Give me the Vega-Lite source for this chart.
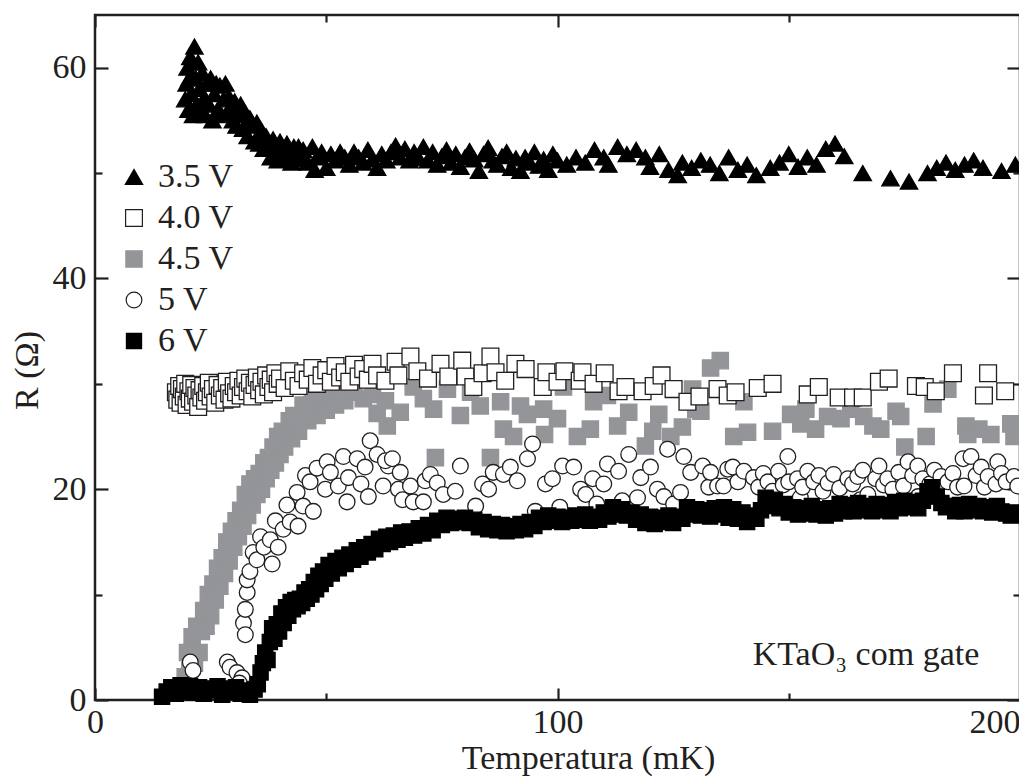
{
  "$schema": "https://vega.github.io/schema/vega-lite/v6.json",
  "autosize": {"type": "none"},
  "padding": {"left": 95, "top": 15, "right": 0, "bottom": 84},
  "width": 925,
  "height": 685,
  "background": "white",
  "config": {
    "view": {"stroke": "#231f20", "strokeWidth": 2.5},
    "font": "'Liberation Serif', 'Times New Roman', 'DejaVu Serif', serif",
    "axis": {"labelFont": "'Liberation Serif', 'Times New Roman', 'DejaVu Serif', serif", "titleFont": "'Liberation Serif', 'Times New Roman', 'DejaVu Serif', serif", "labelFontSize": 34, "titleFontSize": 34, "labelColor": "#231f20", "titleColor": "#231f20", "titleFontWeight": "normal", "tickColor": "#231f20", "tickWidth": 2.2, "domain": false, "grid": false, "labelOverlap": false},
    "legend": {"labelFont": "'Liberation Serif', 'Times New Roman', 'DejaVu Serif', serif", "labelFontSize": 34, "labelColor": "#231f20", "symbolOpacity": 1, "symbolStrokeWidth": 1.2}
  },
  "resolve": {"axis": {"x": "independent", "y": "independent"}},
  "layer": [
    {
      "data": {"values": [
        {"gate":"4.5 V","T":19.5,"R":2.2},{"gate":"4.5 V","T":20,"R":4.5},{"gate":"4.5 V","T":20.5,"R":2.8},{"gate":"4.5 V","T":21,"R":6},{"gate":"4.5 V","T":21.5,"R":3.5},{"gate":"4.5 V","T":22,"R":7},{"gate":"4.5 V","T":22.5,"R":4.5},{"gate":"4.5 V","T":23,"R":6.5},{"gate":"4.5 V","T":23.5,"R":8.5},{"gate":"4.5 V","T":24,"R":7},{"gate":"4.5 V","T":24.5,"R":10},{"gate":"4.5 V","T":25,"R":8},{"gate":"4.5 V","T":25.5,"R":11},{"gate":"4.5 V","T":26,"R":9.5},{"gate":"4.5 V","T":26.5,"R":12.5},{"gate":"4.5 V","T":27,"R":10.8},{"gate":"4.5 V","T":27.5,"R":13.5},{"gate":"4.5 V","T":28,"R":12},{"gate":"4.5 V","T":28.5,"R":15},{"gate":"4.5 V","T":29,"R":13.2},{"gate":"4.5 V","T":29.5,"R":16},{"gate":"4.5 V","T":30,"R":14.5},{"gate":"4.5 V","T":30.5,"R":17},{"gate":"4.5 V","T":31,"R":15.5},{"gate":"4.5 V","T":31.5,"R":18},{"gate":"4.5 V","T":32,"R":16.5},{"gate":"4.5 V","T":32.5,"R":19.5},{"gate":"4.5 V","T":33,"R":17.5},{"gate":"4.5 V","T":33.5,"R":20.5},{"gate":"4.5 V","T":34,"R":18.5},{"gate":"4.5 V","T":34.5,"R":21},{"gate":"4.5 V","T":35,"R":19.5},{"gate":"4.5 V","T":35.5,"R":21.5},{"gate":"4.5 V","T":36,"R":20},{"gate":"4.5 V","T":36.5,"R":22.5},{"gate":"4.5 V","T":37,"R":21},{"gate":"4.5 V","T":37.5,"R":23},{"gate":"4.5 V","T":38,"R":21.8},{"gate":"4.5 V","T":38.5,"R":24},{"gate":"4.5 V","T":39,"R":22.5},{"gate":"4.5 V","T":39.5,"R":25},{"gate":"4.5 V","T":40,"R":23.3},{"gate":"4.5 V","T":40.5,"R":25.5},{"gate":"4.5 V","T":41,"R":24},{"gate":"4.5 V","T":42,"R":26.5},{"gate":"4.5 V","T":42.5,"R":24.8},{"gate":"4.5 V","T":43,"R":27},{"gate":"4.5 V","T":44,"R":25.5},{"gate":"4.5 V","T":45,"R":28},{"gate":"4.5 V","T":46,"R":26.5},{"gate":"4.5 V","T":47,"R":28.5},{"gate":"4.5 V","T":48,"R":27},{"gate":"4.5 V","T":49,"R":29},{"gate":"4.5 V","T":50,"R":27.5},{"gate":"4.5 V","T":51,"R":29.2},{"gate":"4.5 V","T":52,"R":28},{"gate":"4.5 V","T":53,"R":30},{"gate":"4.5 V","T":54,"R":28.4},{"gate":"4.5 V","T":55,"R":31},{"gate":"4.5 V","T":56,"R":29.2},{"gate":"4.5 V","T":57,"R":30.5},{"gate":"4.5 V","T":58,"R":28.6},{"gate":"4.5 V","T":59,"R":31.5},{"gate":"4.5 V","T":60,"R":29},{"gate":"4.5 V","T":61,"R":27.2},
        {"gate":"4.5 V","T":62.8,"R":28.4},{"gate":"4.5 V","T":63.2,"R":26},{"gate":"4.5 V","T":66,"R":27.3},{"gate":"4.5 V","T":68.8,"R":29.7},{"gate":"4.5 V","T":71,"R":28.6},{"gate":"4.5 V","T":73.2,"R":27.6},{"gate":"4.5 V","T":73.6,"R":23},{"gate":"4.5 V","T":76.2,"R":29.5},{"gate":"4.5 V","T":79,"R":27},{"gate":"4.5 V","T":81.2,"R":29.2},{"gate":"4.5 V","T":83.3,"R":27.9},{"gate":"4.5 V","T":85.5,"R":23},{"gate":"4.5 V","T":87.7,"R":28.3},{"gate":"4.5 V","T":88.3,"R":25.7},{"gate":"4.5 V","T":90.5,"R":25},{"gate":"4.5 V","T":92,"R":27.9},{"gate":"4.5 V","T":93.5,"R":27.1},{"gate":"4.5 V","T":97,"R":27.6},{"gate":"4.5 V","T":97.2,"R":25.2},{"gate":"4.5 V","T":100,"R":26.7},{"gate":"4.5 V","T":101.3,"R":29.7},{"gate":"4.5 V","T":104.3,"R":25},{"gate":"4.5 V","T":107.1,"R":25.7},{"gate":"4.5 V","T":107.8,"R":28.3},{"gate":"4.5 V","T":110.8,"R":28.9},{"gate":"4.5 V","T":113,"R":26},{"gate":"4.5 V","T":115.4,"R":27.3},{"gate":"4.5 V","T":119,"R":24.1},{"gate":"4.5 V","T":120.6,"R":25.5},{"gate":"4.5 V","T":121.9,"R":27.1},{"gate":"4.5 V","T":124.5,"R":25},{"gate":"4.5 V","T":127,"R":25.9},{"gate":"4.5 V","T":129.2,"R":29.5},{"gate":"4.5 V","T":129.9,"R":27.6},{"gate":"4.5 V","T":131,"R":27.4},{"gate":"4.5 V","T":133.1,"R":31.5},{"gate":"4.5 V","T":135.2,"R":32.2},{"gate":"4.5 V","T":138.1,"R":25},{"gate":"4.5 V","T":140.3,"R":28.3},{"gate":"4.5 V","T":141.1,"R":25.4},{"gate":"4.5 V","T":146.5,"R":25.5},{"gate":"4.5 V","T":150.4,"R":27.1},{"gate":"4.5 V","T":152.6,"R":26.2},{"gate":"4.5 V","T":153.7,"R":27.6},{"gate":"4.5 V","T":155.8,"R":25.7},{"gate":"4.5 V","T":158.4,"R":26.9},{"gate":"4.5 V","T":161.3,"R":26.7},{"gate":"4.5 V","T":163.4,"R":27.6},{"gate":"4.5 V","T":166.2,"R":26.9},{"gate":"4.5 V","T":168.2,"R":26},{"gate":"4.5 V","T":169.9,"R":25.7},{"gate":"4.5 V","T":173.2,"R":27.4},{"gate":"4.5 V","T":174.2,"R":26.9},{"gate":"4.5 V","T":175.1,"R":24},{"gate":"4.5 V","T":179.7,"R":25},{"gate":"4.5 V","T":181.2,"R":28.1},{"gate":"4.5 V","T":184.4,"R":29.5},{"gate":"4.5 V","T":188.3,"R":26},{"gate":"4.5 V","T":188.7,"R":25.2},{"gate":"4.5 V","T":191.1,"R":25.7},{"gate":"4.5 V","T":193.7,"R":25.2},{"gate":"4.5 V","T":198,"R":26.2},{"gate":"4.5 V","T":198.7,"R":25},

        {"gate":"5 V","T":20.6,"R":3.6},{"gate":"5 V","T":21.2,"R":2.8},{"gate":"5 V","T":28.6,"R":3.6},{"gate":"5 V","T":29.2,"R":3.1},{"gate":"5 V","T":30.7,"R":2.6},{"gate":"5 V","T":31.8,"R":2.1},{"gate":"5 V","T":31.2,"R":1.6},{"gate":"5 V","T":32.1,"R":7.3},{"gate":"5 V","T":32.5,"R":6.2},{"gate":"5 V","T":32.5,"R":8.6},{"gate":"5 V","T":32.9,"R":10.2},{"gate":"5 V","T":32.9,"R":11.4},{"gate":"5 V","T":33.5,"R":12.2},{"gate":"5 V","T":34.2,"R":14},{"gate":"5 V","T":35,"R":13.3},{"gate":"5 V","T":35.8,"R":15.5},{"gate":"5 V","T":36.5,"R":14.5},{"gate":"5 V","T":37.9,"R":15.2},{"gate":"5 V","T":38.3,"R":12.9},{"gate":"5 V","T":39.6,"R":14.5},{"gate":"5 V","T":39,"R":17},{"gate":"5 V","T":40.7,"R":16.2},{"gate":"5 V","T":41.5,"R":18.5},{"gate":"5 V","T":42.2,"R":16.9},{"gate":"5 V","T":43.9,"R":16.5},{"gate":"5 V","T":43.7,"R":19.7},{"gate":"5 V","T":45,"R":18.4},{"gate":"5 V","T":45.5,"R":21.3},{"gate":"5 V","T":46.5,"R":20.7},{"gate":"5 V","T":47.2,"R":17.9},{"gate":"5 V","T":48,"R":22},{"gate":"5 V","T":49.8,"R":20},{"gate":"5 V","T":50.2,"R":22.6},{"gate":"5 V","T":50.9,"R":21.6},{"gate":"5 V","T":52.6,"R":20.3},{"gate":"5 V","T":53.7,"R":23.1},{"gate":"5 V","T":54.5,"R":18.8},{"gate":"5 V","T":54.8,"R":21.1},{"gate":"5 V","T":56.7,"R":22.9},{"gate":"5 V","T":57.5,"R":20.5},{"gate":"5 V","T":58.4,"R":22.1},{"gate":"5 V","T":59.1,"R":19.3},{"gate":"5 V","T":59.5,"R":24.6},{"gate":"5 V","T":61,"R":23.3},{"gate":"5 V","T":62.3,"R":20.3},{"gate":"5 V","T":63.4,"R":22.2},
        {"gate":"5 V","T":62.8,"R":22.7},{"gate":"5 V","T":64.3,"R":22.9},{"gate":"5 V","T":66,"R":21.6},{"gate":"5 V","T":65.6,"R":20},{"gate":"5 V","T":68.2,"R":20.3},{"gate":"5 V","T":66.5,"R":19},{"gate":"5 V","T":68.8,"R":18.8},{"gate":"5 V","T":71,"R":18.8},{"gate":"5 V","T":71.4,"R":20.8},{"gate":"5 V","T":72.5,"R":21.4},{"gate":"5 V","T":74,"R":20.6},{"gate":"5 V","T":75.3,"R":19.5},{"gate":"5 V","T":77.9,"R":19.8},{"gate":"5 V","T":79,"R":22.2},{"gate":"5 V","T":82.3,"R":18.4},{"gate":"5 V","T":83.8,"R":20.5},{"gate":"5 V","T":85.1,"R":20},{"gate":"5 V","T":86.1,"R":21.6},{"gate":"5 V","T":88.3,"R":21.4},{"gate":"5 V","T":89.8,"R":22.1},{"gate":"5 V","T":91.3,"R":20.8},{"gate":"5 V","T":93.5,"R":22.9},{"gate":"5 V","T":94.6,"R":24.3},{"gate":"5 V","T":95.2,"R":17.9},{"gate":"5 V","T":97.4,"R":20.5},{"gate":"5 V","T":98.9,"R":21},{"gate":"5 V","T":100.5,"R":18.3},{"gate":"5 V","T":101.1,"R":22.2},{"gate":"5 V","T":103.5,"R":22.1},{"gate":"5 V","T":105,"R":20},{"gate":"5 V","T":106.1,"R":19.5},{"gate":"5 V","T":107.6,"R":21},{"gate":"5 V","T":108.5,"R":18.6},{"gate":"5 V","T":110,"R":20.5},{"gate":"5 V","T":110.8,"R":22.4},{"gate":"5 V","T":113.2,"R":21.7},{"gate":"5 V","T":114,"R":18.9},{"gate":"5 V","T":115.4,"R":23.3},{"gate":"5 V","T":117.3,"R":19.2},{"gate":"5 V","T":118,"R":21.1},{"gate":"5 V","T":120.1,"R":22.1},{"gate":"5 V","T":121.6,"R":20},{"gate":"5 V","T":123,"R":19.3},{"gate":"5 V","T":123.8,"R":23.8},{"gate":"5 V","T":125.1,"R":18.6},{"gate":"5 V","T":126.6,"R":19.7},{"gate":"5 V","T":127.3,"R":23.1},{"gate":"5 V","T":128.8,"R":21.6},{"gate":"5 V","T":131.4,"R":22.2},{"gate":"5 V","T":132.7,"R":20.2},{"gate":"5 V","T":133.1,"R":21.6},{"gate":"5 V","T":134.6,"R":20.3},{"gate":"5 V","T":135.9,"R":20.3},{"gate":"5 V","T":136.8,"R":21.9},{"gate":"5 V","T":137.9,"R":22.1},{"gate":"5 V","T":139,"R":20.7},{"gate":"5 V","T":140.3,"R":21.7},{"gate":"5 V","T":142.4,"R":21.1},{"gate":"5 V","T":143.5,"R":20.2},{"gate":"5 V","T":144.5,"R":21.5},{"gate":"5 V","T":145.5,"R":20.7},{"gate":"5 V","T":146.5,"R":19.8},{"gate":"5 V","T":147.8,"R":21.7},{"gate":"5 V","T":148.8,"R":20.4},{"gate":"5 V","T":149.8,"R":23.1},{"gate":"5 V","T":150,"R":20.7},{"gate":"5 V","T":151.9,"R":21},{"gate":"5 V","T":152.5,"R":19.2},{"gate":"5 V","T":153,"R":20.2},{"gate":"5 V","T":154.1,"R":21.7},{"gate":"5 V","T":155.4,"R":20.7},{"gate":"5 V","T":156.5,"R":21.3},{"gate":"5 V","T":157.4,"R":19.8},{"gate":"5 V","T":158.5,"R":20.6},{"gate":"5 V","T":159.7,"R":21.4},{"gate":"5 V","T":161,"R":20.1},{"gate":"5 V","T":162.8,"R":21},{"gate":"5 V","T":163.8,"R":20.5},{"gate":"5 V","T":164.9,"R":21.2},{"gate":"5 V","T":165.5,"R":19},{"gate":"5 V","T":166,"R":21.8},{"gate":"5 V","T":167.1,"R":19.5},{"gate":"5 V","T":168.8,"R":21},{"gate":"5 V","T":169.5,"R":22.2},{"gate":"5 V","T":170.5,"R":20.4},{"gate":"5 V","T":171.4,"R":21},{"gate":"5 V","T":172.5,"R":20},{"gate":"5 V","T":173.8,"R":21.6},{"gate":"5 V","T":174.8,"R":20.3},{"gate":"5 V","T":175.8,"R":22.6},{"gate":"5 V","T":176.8,"R":21.3},{"gate":"5 V","T":177.9,"R":22.2},{"gate":"5 V","T":178,"R":19.3},{"gate":"5 V","T":179,"R":21},{"gate":"5 V","T":180.5,"R":20.5},{"gate":"5 V","T":181.5,"R":21.8},{"gate":"5 V","T":182.9,"R":21.2},{"gate":"5 V","T":184.4,"R":20.7},{"gate":"5 V","T":185.5,"R":21.5},{"gate":"5 V","T":186.5,"R":20.2},{"gate":"5 V","T":187.7,"R":22.9},{"gate":"5 V","T":187.9,"R":20.3},{"gate":"5 V","T":189.4,"R":23.1},{"gate":"5 V","T":190.5,"R":21.3},{"gate":"5 V","T":191.6,"R":22.1},{"gate":"5 V","T":192.3,"R":20.2},{"gate":"5 V","T":193.1,"R":21.2},{"gate":"5 V","T":194.8,"R":20.5},{"gate":"5 V","T":195.2,"R":22.6},{"gate":"5 V","T":196,"R":21.5},{"gate":"5 V","T":197,"R":20.7},{"gate":"5 V","T":198.7,"R":21.2},{"gate":"5 V","T":199.5,"R":20.3},

        {"gate":"6 V","T":14.5,"R":0.3},{"gate":"6 V","T":15.5,"R":0.8},{"gate":"6 V","T":16.5,"R":1.2},{"gate":"6 V","T":17.5,"R":0.6},{"gate":"6 V","T":18.5,"R":1.4},{"gate":"6 V","T":19.5,"R":0.8},{"gate":"6 V","T":20.5,"R":1.3},{"gate":"6 V","T":21.5,"R":0.7},{"gate":"6 V","T":22.5,"R":1.2},{"gate":"6 V","T":23.5,"R":0.6},{"gate":"6 V","T":24.5,"R":1.1},{"gate":"6 V","T":25.5,"R":0.9},{"gate":"6 V","T":26.5,"R":1.3},{"gate":"6 V","T":27.5,"R":0.5},{"gate":"6 V","T":28.5,"R":1.1},{"gate":"6 V","T":29.5,"R":0.8},{"gate":"6 V","T":30.5,"R":1.2},{"gate":"6 V","T":31.5,"R":0.6},{"gate":"6 V","T":32.5,"R":0.9},{"gate":"6 V","T":33.5,"R":0.5},{"gate":"6 V","T":34.5,"R":1},{"gate":"6 V","T":35.2,"R":1.5},{"gate":"6 V","T":35.8,"R":2.6},{"gate":"6 V","T":36.3,"R":3.5},{"gate":"6 V","T":36.8,"R":4.5},{"gate":"6 V","T":37.3,"R":3.8},{"gate":"6 V","T":37.8,"R":5.5},{"gate":"6 V","T":38.3,"R":6.8},{"gate":"6 V","T":38.8,"R":5.8},{"gate":"6 V","T":39.3,"R":7.2},{"gate":"6 V","T":39.8,"R":6.5},{"gate":"6 V","T":40.3,"R":8.2},{"gate":"6 V","T":40.8,"R":7.3},{"gate":"6 V","T":41.3,"R":8.8},{"gate":"6 V","T":41.8,"R":8},{"gate":"6 V","T":42.3,"R":9.3},{"gate":"6 V","T":42.8,"R":8.6},{"gate":"6 V","T":43.3,"R":9.5},{"gate":"6 V","T":43.8,"R":8.9},{"gate":"6 V","T":44.3,"R":9.6},{"gate":"6 V","T":44.8,"R":9.2},{"gate":"6 V","T":45.3,"R":10.2},{"gate":"6 V","T":45.8,"R":9.6},{"gate":"6 V","T":46.3,"R":10.5},{"gate":"6 V","T":46.8,"R":10},{"gate":"6 V","T":47.3,"R":11.2},{"gate":"6 V","T":47.8,"R":10.5},{"gate":"6 V","T":48.3,"R":11.8},{"gate":"6 V","T":48.8,"R":11},{"gate":"6 V","T":49.3,"R":12.2},{"gate":"6 V","T":49.8,"R":11.5},{"gate":"6 V","T":50.5,"R":12.8},{"gate":"6 V","T":51.2,"R":12},{"gate":"6 V","T":52,"R":13.2},{"gate":"6 V","T":52.7,"R":12.5},{"gate":"6 V","T":53.5,"R":13.5},{"gate":"6 V","T":54.2,"R":12.9},{"gate":"6 V","T":55,"R":13.8},{"gate":"6 V","T":55.8,"R":13.3},{"gate":"6 V","T":56.6,"R":14.2},{"gate":"6 V","T":57.4,"R":13.6},{"gate":"6 V","T":58.2,"R":14.5},{"gate":"6 V","T":59,"R":14},{"gate":"6 V","T":59.8,"R":14.8},{"gate":"6 V","T":60.6,"R":14.3},{"gate":"6 V","T":61.4,"R":15.3},{"gate":"6 V","T":62.2,"R":14.8},{"gate":"6 V","T":63,"R":15.5},{"gate":"6 V","T":63.8,"R":15},{"gate":"6 V","T":64.6,"R":15.6},{"gate":"6 V","T":65.4,"R":15.2},{"gate":"6 V","T":66.2,"R":15.9},{"gate":"6 V","T":67,"R":15.4},{"gate":"6 V","T":68,"R":16},{"gate":"6 V","T":69,"R":15.6},{"gate":"6 V","T":70,"R":16.3},{"gate":"6 V","T":71,"R":15.8},{"gate":"6 V","T":72,"R":16.6},{"gate":"6 V","T":73,"R":16.1},{"gate":"6 V","T":74,"R":17},{"gate":"6 V","T":75,"R":16.6},{"gate":"6 V","T":76,"R":17.3},{"gate":"6 V","T":77,"R":16.8},{"gate":"6 V","T":78,"R":17.2},{"gate":"6 V","T":79,"R":16.9},{"gate":"6 V","T":80,"R":17.3},{"gate":"6 V","T":81,"R":16.8},{"gate":"6 V","T":82,"R":17.1},{"gate":"6 V","T":83,"R":16.4},{"gate":"6 V","T":84,"R":16.9},{"gate":"6 V","T":85,"R":16.2},{"gate":"6 V","T":86,"R":16.7},{"gate":"6 V","T":87,"R":16.1},{"gate":"6 V","T":88,"R":16.6},{"gate":"6 V","T":89,"R":16},{"gate":"6 V","T":90,"R":16.5},{"gate":"6 V","T":91,"R":16.1},{"gate":"6 V","T":92,"R":16.7},{"gate":"6 V","T":93,"R":16.2},{"gate":"6 V","T":94,"R":16.9},{"gate":"6 V","T":95,"R":16.5},{"gate":"6 V","T":96,"R":17.3},{"gate":"6 V","T":97,"R":16.9},{"gate":"6 V","T":98,"R":17.5},{"gate":"6 V","T":99,"R":17},{"gate":"6 V","T":100,"R":17.4},{"gate":"6 V","T":101,"R":16.9},{"gate":"6 V","T":102,"R":17.3},{"gate":"6 V","T":103,"R":17},{"gate":"6 V","T":104,"R":17.5},{"gate":"6 V","T":105,"R":17.1},{"gate":"6 V","T":106,"R":17.6},{"gate":"6 V","T":107,"R":17},{"gate":"6 V","T":108,"R":17.4},{"gate":"6 V","T":109,"R":17.1},{"gate":"6 V","T":110,"R":17.8},{"gate":"6 V","T":111,"R":17.4},{"gate":"6 V","T":112,"R":18.3},{"gate":"6 V","T":113,"R":17.6},{"gate":"6 V","T":114,"R":18.1},{"gate":"6 V","T":115,"R":17.5},{"gate":"6 V","T":116,"R":17.8},{"gate":"6 V","T":117,"R":17.1},{"gate":"6 V","T":118,"R":17.6},{"gate":"6 V","T":119,"R":16.8},{"gate":"6 V","T":120,"R":17.4},{"gate":"6 V","T":121,"R":16.7},{"gate":"6 V","T":122,"R":17.3},{"gate":"6 V","T":123,"R":16.9},{"gate":"6 V","T":124,"R":17.5},{"gate":"6 V","T":125,"R":16.8},{"gate":"6 V","T":126,"R":17.4},{"gate":"6 V","T":127,"R":17.2},{"gate":"6 V","T":128,"R":18.3},{"gate":"6 V","T":129,"R":17.6},{"gate":"6 V","T":130,"R":18.1},{"gate":"6 V","T":131,"R":17.5},{"gate":"6 V","T":132,"R":18},{"gate":"6 V","T":133,"R":17.4},{"gate":"6 V","T":134,"R":18.2},{"gate":"6 V","T":135,"R":17.6},{"gate":"6 V","T":136,"R":18.3},{"gate":"6 V","T":137,"R":17.3},{"gate":"6 V","T":138,"R":18.1},{"gate":"6 V","T":139,"R":17.2},{"gate":"6 V","T":140,"R":17.8},{"gate":"6 V","T":141,"R":16.9},{"gate":"6 V","T":142,"R":17.5},{"gate":"6 V","T":143,"R":17.2},{"gate":"6 V","T":144,"R":18},{"gate":"6 V","T":145,"R":19.2},{"gate":"6 V","T":146,"R":18.4},{"gate":"6 V","T":147,"R":19},{"gate":"6 V","T":148,"R":18.2},{"gate":"6 V","T":149,"R":18.6},{"gate":"6 V","T":150,"R":17.8},{"gate":"6 V","T":151,"R":18.3},{"gate":"6 V","T":152,"R":17.6},{"gate":"6 V","T":153,"R":18.2},{"gate":"6 V","T":154,"R":17.7},{"gate":"6 V","T":155,"R":18.4},{"gate":"6 V","T":156,"R":17.6},{"gate":"6 V","T":157,"R":18.1},{"gate":"6 V","T":158,"R":17.5},{"gate":"6 V","T":159,"R":18.2},{"gate":"6 V","T":160,"R":17.7},{"gate":"6 V","T":161,"R":18.6},{"gate":"6 V","T":162,"R":17.9},{"gate":"6 V","T":163,"R":18.5},{"gate":"6 V","T":164,"R":17.9},{"gate":"6 V","T":165,"R":18.7},{"gate":"6 V","T":166,"R":18},{"gate":"6 V","T":167,"R":18.4},{"gate":"6 V","T":168,"R":17.9},{"gate":"6 V","T":169,"R":18.6},{"gate":"6 V","T":170,"R":18},{"gate":"6 V","T":171,"R":18.5},{"gate":"6 V","T":172,"R":17.9},{"gate":"6 V","T":173,"R":18.8},{"gate":"6 V","T":174,"R":18.2},{"gate":"6 V","T":175,"R":18.9},{"gate":"6 V","T":176,"R":18.3},{"gate":"6 V","T":177,"R":18.8},{"gate":"6 V","T":178,"R":18.2},{"gate":"6 V","T":179,"R":18.9},{"gate":"6 V","T":180,"R":19.8},{"gate":"6 V","T":181,"R":20.2},{"gate":"6 V","T":182,"R":19.3},{"gate":"6 V","T":183,"R":18.7},{"gate":"6 V","T":184,"R":18.3},{"gate":"6 V","T":185,"R":18.4},{"gate":"6 V","T":186,"R":17.9},{"gate":"6 V","T":187,"R":18.5},{"gate":"6 V","T":188,"R":17.9},{"gate":"6 V","T":189,"R":18.6},{"gate":"6 V","T":190,"R":18},{"gate":"6 V","T":191,"R":18.4},{"gate":"6 V","T":192,"R":17.9},{"gate":"6 V","T":193,"R":18.3},{"gate":"6 V","T":194,"R":17.8},{"gate":"6 V","T":195,"R":18.4},{"gate":"6 V","T":196,"R":17.9},{"gate":"6 V","T":197,"R":17.7},{"gate":"6 V","T":198,"R":17.5},{"gate":"6 V","T":199,"R":17.8},{"gate":"6 V","T":200,"R":17.6},

        {"gate":"4.0 V","T":17.5,"R":29.2},{"gate":"4.0 V","T":17.8,"R":28.5},{"gate":"4.0 V","T":18.2,"R":29.8},{"gate":"4.0 V","T":18.5,"R":28.2},{"gate":"4.0 V","T":18.8,"R":29.5},{"gate":"4.0 V","T":19.2,"R":28.8},{"gate":"4.0 V","T":19.5,"R":30},{"gate":"4.0 V","T":19.8,"R":28},{"gate":"4.0 V","T":20.2,"R":29.3},{"gate":"4.0 V","T":20.5,"R":28.6},{"gate":"4.0 V","T":20.8,"R":29.9},{"gate":"4.0 V","T":21.2,"R":28.3},{"gate":"4.0 V","T":21.5,"R":29.6},{"gate":"4.0 V","T":21.9,"R":28.9},{"gate":"4.0 V","T":22.3,"R":27.8},{"gate":"4.0 V","T":22.6,"R":29.4},{"gate":"4.0 V","T":23,"R":28.7},{"gate":"4.0 V","T":23.4,"R":29.8},{"gate":"4.0 V","T":23.8,"R":28.4},{"gate":"4.0 V","T":24.2,"R":29.2},{"gate":"4.0 V","T":24.6,"R":30.1},{"gate":"4.0 V","T":25,"R":28.8},{"gate":"4.0 V","T":25.5,"R":29.5},{"gate":"4.0 V","T":26,"R":28.2},{"gate":"4.0 V","T":26.5,"R":29.9},{"gate":"4.0 V","T":27,"R":28.9},{"gate":"4.0 V","T":27.5,"R":29.6},{"gate":"4.0 V","T":28,"R":28.5},{"gate":"4.0 V","T":28.5,"R":30.2},{"gate":"4.0 V","T":29,"R":29.1},{"gate":"4.0 V","T":29.5,"R":28.6},{"gate":"4.0 V","T":30,"R":29.8},{"gate":"4.0 V","T":30.5,"R":29.2},{"gate":"4.0 V","T":31,"R":30.3},{"gate":"4.0 V","T":31.5,"R":28.9},{"gate":"4.0 V","T":32,"R":29.7},{"gate":"4.0 V","T":32.5,"R":30.5},{"gate":"4.0 V","T":33,"R":29.3},{"gate":"4.0 V","T":33.5,"R":30.1},{"gate":"4.0 V","T":34,"R":28.8},{"gate":"4.0 V","T":34.5,"R":29.9},{"gate":"4.0 V","T":35,"R":30.6},{"gate":"4.0 V","T":35.5,"R":29.4},{"gate":"4.0 V","T":36,"R":30.2},{"gate":"4.0 V","T":36.5,"R":29},{"gate":"4.0 V","T":37,"R":30.8},{"gate":"4.0 V","T":37.5,"R":29.7},{"gate":"4.0 V","T":38,"R":30.4},{"gate":"4.0 V","T":38.5,"R":29.2},{"gate":"4.0 V","T":39,"R":31},{"gate":"4.0 V","T":39.5,"R":30},{"gate":"4.0 V","T":40,"R":30.5},{"gate":"4.0 V","T":41,"R":29.6},{"gate":"4.0 V","T":42,"R":31.2},{"gate":"4.0 V","T":43,"R":30.3},{"gate":"4.0 V","T":44,"R":29.8},{"gate":"4.0 V","T":45,"R":31},{"gate":"4.0 V","T":46,"R":30.4},{"gate":"4.0 V","T":47,"R":31.5},{"gate":"4.0 V","T":48,"R":30},{"gate":"4.0 V","T":49,"R":30.8},{"gate":"4.0 V","T":50,"R":31.3},{"gate":"4.0 V","T":51,"R":30.2},{"gate":"4.0 V","T":52,"R":31.7},{"gate":"4.0 V","T":53,"R":30.6},{"gate":"4.0 V","T":54,"R":31.1},{"gate":"4.0 V","T":55,"R":30.2},{"gate":"4.0 V","T":56,"R":31.8},{"gate":"4.0 V","T":57,"R":30.7},{"gate":"4.0 V","T":58,"R":31.4},{"gate":"4.0 V","T":59,"R":30.4},{"gate":"4.0 V","T":60,"R":31.9},{"gate":"4.0 V","T":61,"R":30.8},
        {"gate":"4.0 V","T":62.8,"R":30.3},{"gate":"4.0 V","T":65,"R":32.1},{"gate":"4.0 V","T":68.2,"R":32.6},{"gate":"4.0 V","T":65.6,"R":30.8},{"gate":"4.0 V","T":69.7,"R":31.2},{"gate":"4.0 V","T":72,"R":30.5},{"gate":"4.0 V","T":74.7,"R":31.9},{"gate":"4.0 V","T":76.4,"R":30.7},{"gate":"4.0 V","T":79.4,"R":32.2},{"gate":"4.0 V","T":80.1,"R":30.7},{"gate":"4.0 V","T":81.8,"R":29.7},{"gate":"4.0 V","T":83.8,"R":31},{"gate":"4.0 V","T":85.5,"R":32.6},{"gate":"4.0 V","T":86.6,"R":31.1},{"gate":"4.0 V","T":88.7,"R":30.3},{"gate":"4.0 V","T":90.9,"R":31.9},{"gate":"4.0 V","T":93.1,"R":31.4},{"gate":"4.0 V","T":96.8,"R":29.7},{"gate":"4.0 V","T":97.6,"R":31.1},{"gate":"4.0 V","T":100,"R":30.2},{"gate":"4.0 V","T":101.5,"R":31.2},{"gate":"4.0 V","T":104.8,"R":30.3},{"gate":"4.0 V","T":105.4,"R":31.1},{"gate":"4.0 V","T":107.8,"R":30},{"gate":"4.0 V","T":110.2,"R":31},{"gate":"4.0 V","T":113.2,"R":29.3},{"gate":"4.0 V","T":114.7,"R":29.7},{"gate":"4.0 V","T":118.4,"R":29.3},{"gate":"4.0 V","T":120.8,"R":29.8},{"gate":"4.0 V","T":122.5,"R":30.8},{"gate":"4.0 V","T":125.1,"R":29.5},{"gate":"4.0 V","T":128.1,"R":28.3},{"gate":"4.0 V","T":130.7,"R":28.8},{"gate":"4.0 V","T":134.6,"R":29.5},{"gate":"4.0 V","T":136.8,"R":28.9},{"gate":"4.0 V","T":138.5,"R":29.2},{"gate":"4.0 V","T":143.3,"R":29.6},{"gate":"4.0 V","T":146.5,"R":30},{"gate":"4.0 V","T":154.1,"R":29},{"gate":"4.0 V","T":156.5,"R":29.7},{"gate":"4.0 V","T":160.8,"R":28.7},{"gate":"4.0 V","T":163.9,"R":28.7},{"gate":"4.0 V","T":166,"R":28.7},{"gate":"4.0 V","T":169.5,"R":30.2},{"gate":"4.0 V","T":171.6,"R":30.5},{"gate":"4.0 V","T":177.5,"R":29.8},{"gate":"4.0 V","T":179.4,"R":29.7},{"gate":"4.0 V","T":181.8,"R":29.3},{"gate":"4.0 V","T":185.5,"R":31},{"gate":"4.0 V","T":192.2,"R":28.9},{"gate":"4.0 V","T":193.1,"R":31},{"gate":"4.0 V","T":196.8,"R":29.3},

        {"gate":"3.5 V","T":19.5,"R":57},{"gate":"3.5 V","T":19.8,"R":58.5},{"gate":"3.5 V","T":20,"R":60},{"gate":"3.5 V","T":20.2,"R":56},{"gate":"3.5 V","T":20.4,"R":59},{"gate":"3.5 V","T":20.6,"R":61},{"gate":"3.5 V","T":20.8,"R":57.5},{"gate":"3.5 V","T":21,"R":60.5},{"gate":"3.5 V","T":21.2,"R":55.5},{"gate":"3.5 V","T":21.5,"R":62},{"gate":"3.5 V","T":21.8,"R":59},{"gate":"3.5 V","T":22,"R":56.5},{"gate":"3.5 V","T":22.3,"R":60.5},{"gate":"3.5 V","T":22.6,"R":58},{"gate":"3.5 V","T":22.9,"R":56},{"gate":"3.5 V","T":23.2,"R":59.5},{"gate":"3.5 V","T":23.5,"R":57},{"gate":"3.5 V","T":23.8,"R":55.5},{"gate":"3.5 V","T":24.2,"R":58.5},{"gate":"3.5 V","T":24.6,"R":56.5},{"gate":"3.5 V","T":25,"R":59},{"gate":"3.5 V","T":25.4,"R":55},{"gate":"3.5 V","T":25.8,"R":57.5},{"gate":"3.5 V","T":26.2,"R":58.5},{"gate":"3.5 V","T":26.6,"R":56},{"gate":"3.5 V","T":27,"R":58.3},{"gate":"3.5 V","T":27.4,"R":55.5},{"gate":"3.5 V","T":27.8,"R":57},{"gate":"3.5 V","T":28.2,"R":58.5},{"gate":"3.5 V","T":28.6,"R":55.8},{"gate":"3.5 V","T":29,"R":57.2},{"gate":"3.5 V","T":29.4,"R":56},{"gate":"3.5 V","T":29.8,"R":55},{"gate":"3.5 V","T":30.2,"R":56.8},{"gate":"3.5 V","T":30.6,"R":54.5},{"gate":"3.5 V","T":31,"R":55.8},{"gate":"3.5 V","T":31.5,"R":56.5},{"gate":"3.5 V","T":32,"R":54.2},{"gate":"3.5 V","T":32.5,"R":55.5},{"gate":"3.5 V","T":33,"R":53.5},{"gate":"3.5 V","T":33.5,"R":55.2},{"gate":"3.5 V","T":34,"R":54.5},{"gate":"3.5 V","T":34.5,"R":53},{"gate":"3.5 V","T":35,"R":54.8},{"gate":"3.5 V","T":35.5,"R":52.8},{"gate":"3.5 V","T":36,"R":54},{"gate":"3.5 V","T":36.5,"R":52.3},{"gate":"3.5 V","T":37,"R":53.5},{"gate":"3.5 V","T":37.5,"R":52.8},{"gate":"3.5 V","T":38,"R":51.5},{"gate":"3.5 V","T":38.5,"R":53.2},{"gate":"3.5 V","T":39,"R":52.5},{"gate":"3.5 V","T":39.5,"R":51.2},{"gate":"3.5 V","T":40,"R":53},{"gate":"3.5 V","T":40.5,"R":52.2},{"gate":"3.5 V","T":41,"R":51.5},{"gate":"3.5 V","T":41.5,"R":52.8},{"gate":"3.5 V","T":42,"R":52},{"gate":"3.5 V","T":42.5,"R":51},{"gate":"3.5 V","T":43,"R":52.5},{"gate":"3.5 V","T":43.5,"R":51.8},{"gate":"3.5 V","T":44,"R":52.5},{"gate":"3.5 V","T":44.5,"R":51.3},{"gate":"3.5 V","T":45,"R":52.2},{"gate":"3.5 V","T":46,"R":51},{"gate":"3.5 V","T":47,"R":52.5},{"gate":"3.5 V","T":47.5,"R":50.3},{"gate":"3.5 V","T":48,"R":51.5},{"gate":"3.5 V","T":49,"R":52},{"gate":"3.5 V","T":50,"R":50.5},{"gate":"3.5 V","T":51,"R":51.8},{"gate":"3.5 V","T":52,"R":51.2},{"gate":"3.5 V","T":53,"R":52},{"gate":"3.5 V","T":54,"R":51.5},{"gate":"3.5 V","T":55,"R":50.8},{"gate":"3.5 V","T":56,"R":52},{"gate":"3.5 V","T":57,"R":51.5},{"gate":"3.5 V","T":58,"R":51},{"gate":"3.5 V","T":59,"R":52.2},{"gate":"3.5 V","T":60,"R":51.3},{"gate":"3.5 V","T":61,"R":50.5},{"gate":"3.5 V","T":62,"R":51.8},{"gate":"3.5 V","T":63,"R":51.2},{"gate":"3.5 V","T":64,"R":52},{"gate":"3.5 V","T":65,"R":52.6},{"gate":"3.5 V","T":66,"R":51.5},{"gate":"3.5 V","T":67,"R":52.3},{"gate":"3.5 V","T":68,"R":51.2},{"gate":"3.5 V","T":69,"R":52},{"gate":"3.5 V","T":70,"R":51.4},{"gate":"3.5 V","T":71,"R":52.5},{"gate":"3.5 V","T":72,"R":51.2},{"gate":"3.5 V","T":73,"R":52},{"gate":"3.5 V","T":74,"R":50.8},{"gate":"3.5 V","T":75,"R":51.6},{"gate":"3.5 V","T":76,"R":52.2},{"gate":"3.5 V","T":77,"R":51},{"gate":"3.5 V","T":78,"R":51.8},{"gate":"3.5 V","T":79,"R":50.6},{"gate":"3.5 V","T":80,"R":51.5},{"gate":"3.5 V","T":81,"R":52.1},{"gate":"3.5 V","T":82,"R":51.3},{"gate":"3.5 V","T":83,"R":50.2},{"gate":"3.5 V","T":84,"R":51.8},{"gate":"3.5 V","T":85,"R":52.4},{"gate":"3.5 V","T":86,"R":51.2},{"gate":"3.5 V","T":87,"R":50.8},{"gate":"3.5 V","T":88,"R":51.6},{"gate":"3.5 V","T":89,"R":52},{"gate":"3.5 V","T":90,"R":50.5},{"gate":"3.5 V","T":91,"R":51.4},{"gate":"3.5 V","T":92,"R":50.2},{"gate":"3.5 V","T":93,"R":51.5},{"gate":"3.5 V","T":94,"R":51},{"gate":"3.5 V","T":95,"R":52},{"gate":"3.5 V","T":96,"R":50.7},{"gate":"3.5 V","T":97,"R":51.3},{"gate":"3.5 V","T":98,"R":50.3},{"gate":"3.5 V","T":99,"R":51.8},{"gate":"3.5 V","T":100,"R":51.2},{"gate":"3.5 V","T":102,"R":50.8},{"gate":"3.5 V","T":104,"R":51.5},{"gate":"3.5 V","T":106,"R":51},{"gate":"3.5 V","T":108,"R":52.2},{"gate":"3.5 V","T":110,"R":51.5},{"gate":"3.5 V","T":111,"R":50.8},{"gate":"3.5 V","T":113,"R":52.5},{"gate":"3.5 V","T":115,"R":51.8},{"gate":"3.5 V","T":117,"R":52.2},{"gate":"3.5 V","T":119,"R":51.5},{"gate":"3.5 V","T":120,"R":50.6},{"gate":"3.5 V","T":122,"R":51.8},{"gate":"3.5 V","T":124,"R":50.3},{"gate":"3.5 V","T":126,"R":49.8},{"gate":"3.5 V","T":127,"R":51},{"gate":"3.5 V","T":129,"R":50.5},{"gate":"3.5 V","T":131,"R":51.2},{"gate":"3.5 V","T":133,"R":50.8},{"gate":"3.5 V","T":135,"R":50},{"gate":"3.5 V","T":137,"R":51.5},{"gate":"3.5 V","T":139,"R":50.3},{"gate":"3.5 V","T":141,"R":50.8},{"gate":"3.5 V","T":143,"R":49.8},{"gate":"3.5 V","T":146,"R":50.5},{"gate":"3.5 V","T":148,"R":51},{"gate":"3.5 V","T":150,"R":51.8},{"gate":"3.5 V","T":152,"R":50.6},{"gate":"3.5 V","T":154,"R":51.5},{"gate":"3.5 V","T":156,"R":50.8},{"gate":"3.5 V","T":158,"R":52.3},{"gate":"3.5 V","T":160,"R":52.8},{"gate":"3.5 V","T":162,"R":51.6},{"gate":"3.5 V","T":166,"R":50},{"gate":"3.5 V","T":172,"R":49.5},{"gate":"3.5 V","T":176,"R":49.2},{"gate":"3.5 V","T":180,"R":50},{"gate":"3.5 V","T":182,"R":50.5},{"gate":"3.5 V","T":184,"R":51},{"gate":"3.5 V","T":186,"R":50.3},{"gate":"3.5 V","T":188,"R":50.8},{"gate":"3.5 V","T":190,"R":51.2},{"gate":"3.5 V","T":192,"R":50.5},{"gate":"3.5 V","T":196,"R":50.2},{"gate":"3.5 V","T":199,"R":50.8}
      ]},
      "mark": {"type": "point", "opacity": 1, "strokeWidth": 1.3},
      "encoding": {
        "x": {"field": "T", "type": "quantitative", "scale": {"domain": [0, 200], "nice": false, "zero": false},
          "axis": {"orient": "bottom", "values": [0, 50, 100, 150, 200], "labelExpr": "datum.value % 100 === 0 ? datum.label : ''",
            "tickSize": {"condition": {"test": "datum.value % 100 === 0", "value": -12}, "value": -7},
            "labelPadding": 17,
            "labelAlign": {"condition": {"test": "datum.value === 200", "value": "right"}, "value": "center"},
            "title": "Temperatura (mK)", "titleX": 493, "titleY": 68, "titleBaseline": "alphabetic", "titleAlign": "center"}},
        "y": {"field": "R", "type": "quantitative", "scale": {"domain": [0, 65], "nice": false, "zero": false},
          "axis": {"orient": "left", "values": [0, 10, 20, 30, 40, 50, 60], "labelExpr": "datum.value % 20 === 0 ? datum.label : ''",
            "tickSize": {"condition": {"test": "datum.value % 20 === 0", "value": -13}, "value": -7},
            "labelPadding": 22,
            "title": "R (Ω)", "titleX": -58, "titleY": 355, "titleBaseline": "alphabetic", "titleAlign": "center", "titleAngle": 270}},
        "shape": {"field": "gate", "type": "nominal",
          "scale": {"domain": ["3.5 V", "4.0 V", "4.5 V", "5 V", "6 V"], "range": ["triangle-up", "square", "square", "circle", "square"]},
          "legend": {"orient": "none", "legendX": 22, "legendY": 145, "title": null, "rowPadding": 7, "labelOffset": 7,
            "encode": {"symbols": {"update": {"size": {"signal": "datum.value === '3.5 V' ? 400 : 200"}}}}}},
        "size": {"field": "gate", "type": "nominal",
          "scale": {"domain": ["3.5 V", "4.0 V", "4.5 V", "5 V", "6 V"], "range": [300, 230, 250, 240, 270]}},
        "fill": {"field": "gate", "type": "nominal",
          "scale": {"domain": ["3.5 V", "4.0 V", "4.5 V", "5 V", "6 V"], "range": ["#000000", "#ffffff", "#939598", "#ffffff", "#000000"]}},
        "stroke": {"field": "gate", "type": "nominal",
          "scale": {"domain": ["3.5 V", "4.0 V", "4.5 V", "5 V", "6 V"], "range": ["#000000", "#231f20", "#939598", "#231f20", "#000000"]}}
      }
    },
    {
      "data": {"values": [{"T": 166.7, "R": 3.3, "label": "KTaO₃ com gate"}]},
      "mark": {"type": "text", "font": "'Liberation Serif', 'Times New Roman', 'DejaVu Serif', serif", "fontSize": 34, "align": "center", "baseline": "alphabetic", "color": "#231f20"},
      "encoding": {
        "x": {"field": "T", "type": "quantitative", "scale": {"domain": [0, 200], "nice": false, "zero": false},
          "axis": {"orient": "top", "values": [0, 50, 100, 150, 200], "labels": false, "title": null,
            "tickSize": {"condition": {"test": "datum.value % 100 === 0", "value": -12}, "value": -7}}},
        "y": {"field": "R", "type": "quantitative", "scale": {"domain": [0, 65], "nice": false, "zero": false},
          "axis": {"orient": "right", "values": [0, 10, 20, 30, 40, 50, 60], "labels": false, "title": null,
            "tickSize": {"condition": {"test": "datum.value % 20 === 0", "value": -13}, "value": -7}}},
        "text": {"field": "label"}
      }
    }
  ]
}
